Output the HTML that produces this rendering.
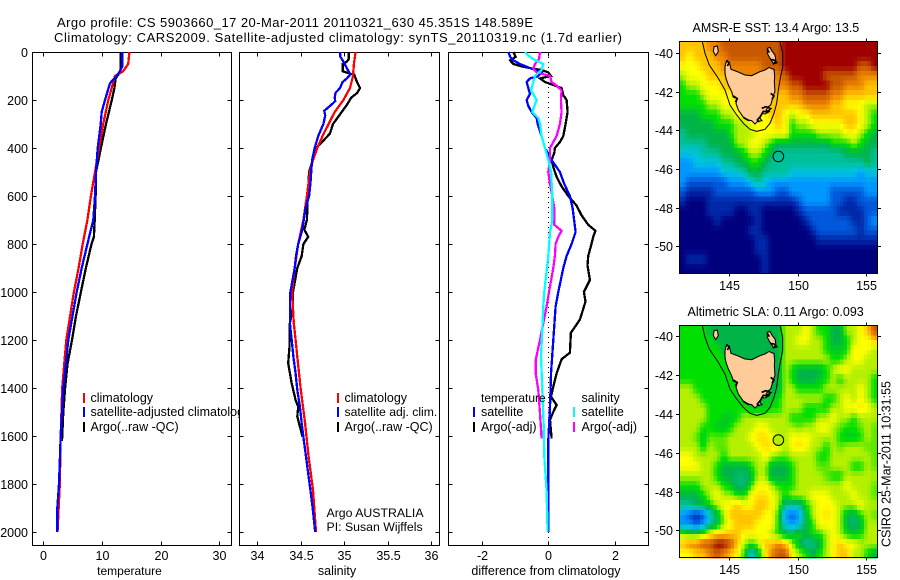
<!DOCTYPE html>
<html lang="en">
<head>
<meta charset="utf-8">
<title>Argo profile 5903660_17</title>
<style>
html,body{margin:0;padding:0;background:#fff;width:900px;height:580px;overflow:hidden}
svg{display:block}
text{font-family:"Liberation Sans",sans-serif;font-size:12.5px;fill:#000}
</style>
</head>
<body>
<svg id="figure" xmlns="http://www.w3.org/2000/svg" width="900" height="580" viewBox="0 0 900 580">
<defs><clipPath id="legendClip"><rect x="0" y="380" width="239" height="60"/></clipPath></defs>
<text x="57" y="27" style="font-size:13px" textLength="476">Argo profile: CS 5903660_17 20-Mar-2011 20110321_630 45.351S 148.589E</text>
<text x="54" y="42" style="font-size:13px" textLength="568">Climatology: CARS2009. Satellite-adjusted climatology: synTS_20110319.nc (1.7d earlier)</text>
<text transform="translate(890.5,547) rotate(-90)" textLength="166">CSIRO 25-Mar-2011 10:31:55</text>
</svg>
<script>
// ---------- depth ticks ----------
const depthTicks = [0,200,400,600,800,1000,1200,1400,1600,1800,2000];
const tempTicks = [0,10,20,30];
const salTicks = [34,34.5,35,35.5,36];
const diffTicks = [-2,0,2];
const lonTicks = [145,150,155];
const mapLatTicks = [-40,-42,-44,-46,-48,-50];

// ---------- temperature panel ----------
const tempArgoDepth = [0,70,90,110,150,200,300,400,500,600,700,770,800,900,1000,1100,1200,1300,1400,1500,1620];
const tempArgoValue = [13.17,13.17,12.9,12.3,12.1,11.65,10.67,9.8,8.96,8.9,8.74,8.6,8.2,7.25,6.4,5.56,4.87,4.1,3.7,3.4,3.17];
const tempClimDepth = [0,50,80,100,200,300,400,500,600,700,800,900,1000,1200,1400,1600,1800,2000];
const tempClimValue = [14.65,14.45,13.6,12.2,11.06,10.2,9.48,8.8,8.1,7.5,6.7,6.0,5.2,3.9,3.2,2.95,2.8,2.4];
const tempSatDepth = [0,60,80,100,130,200,250,300,400,500,600,700,800,900,1000,1200,1400,1600,1800,1900,2000];
const tempSatValue = [13.45,13.45,13.05,12.5,11.35,10.5,9.93,9.77,9.25,8.96,8.8,8.5,7.5,6.53,5.67,4.25,3.4,2.95,2.66,2.37,2.37];

// ---------- salinity panel ----------
const salArgoDepth = [0,30,40,50,80,90,95,120,150,170,190,220,250,300,340,400,430,500,600,700,740,770,800,850,900,1000,1061,1130,1228,1297,1381,1450,1478,1519,1603];
const salArgoValue = [35.05,35.05,35.03,34.98,34.98,35.065,35.115,35.14,35.18,35.15,35.08,35.03,34.97,34.87,34.835,34.68,34.655,34.595,34.58,34.57,34.54,34.585,34.53,34.51,34.46,34.41,34.41,34.375,34.37,34.355,34.395,34.44,34.47,34.46,34.52];
const salClimDepth = [0,50,100,150,200,250,300,350,400,450,500,600,700,800,900,1000,1130,1200,1270,1408,1547,1686,1825,2000];
const salClimValue = [35.13,35.11,35.10,35.065,34.99,34.89,34.82,34.75,34.69,34.64,34.605,34.57,34.53,34.47,34.43,34.40,34.42,34.44,34.46,34.5,34.55,34.59,34.64,34.675];
const salSatDepth = [0,20,40,55,80,95,110,125,150,170,190,205,225,245,265,300,350,400,450,500,550,600,650,700,750,800,850,900,1000,1061,1130,1200,1270,1340,1408,1478,1547,1617,1686,1756,1825,1894,2000];
const salSatValue = [34.95,34.955,34.99,35.01,35.05,35.065,35.03,34.98,34.95,34.9,34.89,34.895,34.835,34.77,34.78,34.76,34.70,34.66,34.63,34.62,34.61,34.595,34.555,34.535,34.51,34.47,34.445,34.43,34.38,34.375,34.375,34.395,34.415,34.44,34.46,34.49,34.51,34.535,34.56,34.585,34.61,34.635,34.665];

// ---------- difference panel ----------
const diffTempArgoDepth = [0,20,35,50,60,70,75,85,100,110,125,140,150,180,200,250,300,350,375,400,420,450,480,520,560,600,640,680,720,745,770,800,850,890,950,1000,1040,1115,1170,1253,1280,1339,1394,1436,1471,1499,1533,1610];
const diffTempArgoValue = [-1.05,-0.98,-1.15,-1.05,-0.8,-0.45,-0.2,0,0.08,-0.25,-0.1,0.2,0.4,0.45,0.55,0.58,0.52,0.45,0.35,0.2,0.18,0.1,0.15,0.25,0.4,0.6,0.85,1.0,1.2,1.42,1.35,1.3,1.2,1.18,1.25,1.07,1.12,0.95,0.68,0.65,0.4,0.25,0.15,0.08,0.25,0.15,0.05,0.1];
const diffTempSatDepth = [0,20,35,50,70,85,100,110,125,150,175,200,225,250,275,300,350,400,450,500,550,600,650,750,800,850,900,1000,1061,1200,1340,1478,1617,1800,2000];
const diffTempSatValue = [-1.2,-1.15,-1.05,-0.85,-0.5,-0.2,-0.3,-0.55,-0.65,-0.6,-0.55,-0.65,-0.6,-0.5,-0.35,-0.32,-0.2,-0.1,0.1,0.35,0.48,0.65,0.73,0.82,0.7,0.55,0.45,0.3,0.22,0.15,0.08,0.05,0,0,0];
const diffSalArgoDepth = [0,30,50,70,85,100,125,140,160,200,250,300,350,400,450,500,550,600,650,720,745,770,800,850,900,1000,1061,1130,1200,1283,1340,1408,1506,1610];
const diffSalArgoValue = [-0.25,-0.28,-0.4,-0.45,-0.35,0.05,0.1,0.25,0.4,0.38,0.4,0.35,0.25,0.05,0.05,0,0.05,0.12,0.18,0.18,0.4,0.3,0.22,0.2,0.15,0.02,-0.05,-0.15,-0.25,-0.38,-0.38,-0.3,-0.25,-0.2];
const diffSalSatDepth = [0,15,30,50,75,100,125,160,200,225,250,275,300,350,400,450,500,600,700,750,850,950,1000,1061,1130,1270,1408,1547,1686,1825,2000];
const diffSalSatValue = [-0.7,-0.6,-0.45,-0.15,-0.2,-0.4,-0.45,-0.52,-0.35,-0.42,-0.48,-0.3,-0.25,-0.2,-0.1,0,0.08,0.12,0.12,0.05,0,-0.08,-0.12,-0.15,-0.17,-0.22,-0.18,-0.14,-0.12,-0.05,-0.02];

// ---------- map grids: colour level per 0.5 degree cell, north to south ----------
const sstGrid = [
[10,10,10,10,11,11,12,12,12,12,12,12,12,12,12,13,13,13,13,13,13,13,13,13,13,13,13,13,13],
[10,9,10,10,10,11,11,12,12,12,12,12,12,12,12,13,13,13,13,13,13,13,13,13,13,13,13,13,13],
[9,9,9,10,10,10,11,11,11,11,11,11,12,12,12,13,13,13,13,13,13,13,13,13,13,13,12,12,13],
[8,9,9,9,10,10,10,11,11,11,11,11,11,11,11,12,13,13,13,13,13,12,12,12,12,12,11,11,11],
[7,8,8,9,9,9,10,10,10,10,10,10,10,10,11,11,12,12,13,13,13,13,12,12,11,11,11,10,10],
[7,7,7,8,9,9,9,9,10,10,10,10,10,10,10,10,11,11,12,12,12,12,11,11,10,10,10,10,10],
[7,7,7,7,8,8,9,9,9,10,10,10,10,10,10,10,10,10,11,11,11,11,10,10,9,9,9,8,8],
[6,6,6,7,7,7,8,8,9,9,9,9,9,10,10,9,8,9,9,10,10,10,10,10,10,10,9,8,7],
[6,6,6,6,6,7,7,7,8,8,9,9,9,9,10,9,7,8,8,9,9,9,9,9,10,10,9,8,7],
[5,6,6,6,6,6,6,7,8,8,8,9,9,9,9,9,7,7,7,7,8,8,8,8,9,9,8,7,6],
[5,5,5,5,6,6,6,6,8,8,9,9,8,7,6,6,6,6,6,6,6,6,7,7,7,8,7,6,6],
[4,4,4,5,5,5,6,6,6,7,8,8,7,6,5,5,5,5,5,5,5,5,5,5,6,6,6,6,5],
[3,3,4,4,4,4,5,5,6,6,7,7,6,5,5,5,5,5,5,5,5,5,5,5,5,5,5,6,5],
[3,3,3,3,3,3,4,4,4,5,6,6,5,5,5,5,4,4,4,4,4,4,4,4,4,4,3,4,4],
[3,2,2,2,2,2,2,3,3,3,4,5,4,3,3,3,3,3,3,3,3,3,3,3,3,3,3,3,3],
[2,1,1,1,1,2,2,2,2,2,2,3,3,3,2,2,3,3,3,3,3,3,2,2,2,2,2,3,3],
[1,0,0,0,1,1,1,1,1,1,1,1,1,1,1,1,1,2,3,3,3,3,2,2,1,1,2,2,2],
[0,0,0,0,1,1,1,1,0,0,1,1,0,0,0,0,0,1,2,2,2,2,2,1,1,1,1,2,2],
[0,0,0,0,0,1,0,0,0,0,0,1,0,0,0,0,0,0,1,2,2,2,2,2,2,1,1,2,3],
[0,0,0,0,0,0,0,0,0,0,1,1,0,0,0,0,0,0,0,1,2,2,2,2,2,2,1,2,2],
[0,0,0,0,0,0,0,0,0,0,0,1,1,0,0,0,0,0,0,0,1,1,1,1,1,1,1,1,1],
[0,0,0,0,0,0,0,0,0,0,0,1,1,0,0,0,0,0,0,0,0,0,0,0,0,0,0,0,0],
[0,1,1,1,0,0,0,0,0,0,0,0,1,0,0,0,0,0,0,0,0,0,0,0,0,0,0,0,0],
[0,0,0,0,0,0,0,0,0,0,0,0,1,0,0,0,0,0,0,0,0,0,0,0,0,0,0,0,0]
];
const slaGrid = [
[7,7,7,7,6,6,6,6,6,6,6,6,6,6,6,8,8,8,9,8,7,7,6,6,8,8,9,10,12],
[7,7,7,7,7,6,6,6,6,6,6,6,6,6,6,8,8,9,9,8,8,7,6,6,7,8,9,9,10],
[7,7,7,7,7,7,6,6,6,6,6,6,6,6,6,8,8,8,8,8,8,7,6.5,6.5,7,9,9,9,8],
[7,7,7,7,7,7,7,6,6,6,6,6,6,6,6,8,8,8,8,8,8,8,7,7,8,9,9,8,8],
[7,7,7,7,7,7,7,7,6,6,6,6,6,6,6,8,7,6,6,6,6,7,8,9,9,8,8,8,8],
[7,7,7,7,7,7,7,7,7,6,6,6,6,6,6,8,7,6,6,6,6.5,7,8,7,8,8,8,8,7],
[8,8,7,7,7,7,7,7,7,7,6,6,6,6,6,8,8,7,7,7,7,8,8,8,8,8,9,8,7],
[8,8,8,7,7,7,7,7,7,7,7,6.5,6.5,6.5,7,8,8,8,8,8,8,7,7,8,9,8,9,8,7],
[8,8,8,8,7,7,7,7,7,7,6.5,6.5,6.5,7,7,8,8,8,7,7,7,7,8,8,9,9,9.5,9,8],
[8,8,8,8,7,7,6.5,6.5,7,8,8,8,8,8,8,8,7,7,7,7,8,8,9,8,8,7,8,8,8],
[8,8,8,7,7,6.5,6.5,7,8,8,8,9,9,8,8,8,8,7.5,8,8,9,9,8,7.5,7,7,7.5,8,7.5],
[8,8,7.5,6.5,7.5,7.5,7.5,8,8,8,9,9.5,9.5,9,8,8,9,9,9,8.5,8,8,8,7,6.5,6.5,7,8,7.5],
[8,8,8,6.8,8,7.5,7.5,8,8,8,8,9,9.5,9.5,9,8,9,9.5,9,8,8,7,8,7.5,8,8,8,7.5,7.5],
[9,9,8,8,8,8,7,8,8,8,8,8,9,8,7.5,7.5,8,8,8,8,7,7,8,8,8,8,8,8,7.5],
[9,9,9,8,8,7,6,6,6,6,7,8,8,6,6,6,7,8,8,8,7.5,7.5,8,8,8,7,7,8,7.5],
[8,8,8,8,8,7,6,6,5.5,5.5,6,8,8,6,6,6,7,8,8,8,8,7.5,7,7,8,8,8,8,8],
[7,7,7,8,8,8,7,6.5,5.5,5.5,7,9,9,8,7,7,7,8,8,8,8,8,8,8,9,8,8,8,7.5],
[6,6,6,7,8,9,8,8,7,7,9,9.5,9.5,9,8,7,8,8,8,9,9,9,8,8,8,9,8,8,7.5],
[5,5,6,6,7,8,9,9,10,9,9,10,10,9,8,5,5,5,7,8,9,9,9,8,8,8,9,8,8],
[3,2,1,2,4,6,8,10,10,10,10,10,9,9,7,3,2,3,6,8,9,9.5,9,8,6,5.5,7,8,7.5],
[3,3,2,3,5,6,8,9,10,10,10,9,9,9,7,4,3,4,6,7,9,9,9,8,6,5.5,6,8,8],
[8,7,7,8,9,10,10,10,10,9,9,9,9,8,7,6,6,7,6,7,7,8,9,8,7,6.5,7,8,8],
[10,11,11,12,12,13,13,12,10,8,7,8,10,10,11,10,8,6,5,5,6,8,9,10,9,9,8,8,8],
[9,9,10,10,11,12,11,10,9,7,4,6,9,11,12,12,9,8,7,6,7,8,9,10,10,8,8,7,6]
];
const colourLevels = ['#00007f','#0028a8','#0058dc','#0098ff','#00c4e0','#00c098','#00b448','#00e000','#b4f000','#ffff00','#ffc400','#ec8400','#c85800','#a00000'];
const argoSst = 13.5;
const argoSla = 0.093;
const argoLon = 148.589;
const argoLat = -45.351;

const NS = 'http://www.w3.org/2000/svg';
const svg = document.getElementById('figure');
const depthY = d => 52 + d * 0.24;

function mk(tag, parent) {
  const el = document.createElementNS(NS, tag);
  (parent || svg).appendChild(el);
  return el;
}
function text(str, x, y, anchor, name, parent) {
  const t = mk('text', parent);
  t.textContent = str;
  t.setAttribute('x', x);
  t.setAttribute('y', y);
  t.setAttribute('text-anchor', anchor || 'start');
  
  
  return t;
}
function line(x1, y1, x2, y2, name, color, width, parent) {
  const l = mk('line', parent);
  l.setAttribute('x1', x1);
  l.setAttribute('y1', y1);
  l.setAttribute('x2', x2);
  l.setAttribute('y2', y2);
  l.setAttribute('stroke', color || '#000');
  l.setAttribute('stroke-width', width || 1);
  l.setAttribute('shape-rendering', 'crispEdges');
  
  
  return l;
}
function frame(x, y, w, h, name) {
  const r = mk('rect');
  r.setAttribute('x', x);
  r.setAttribute('y', y);
  r.setAttribute('width', w);
  r.setAttribute('height', h);
  r.setAttribute('fill', 'none');
  r.setAttribute('stroke', '#000');
  r.setAttribute('stroke-width', 1);
  r.setAttribute('shape-rendering', 'crispEdges');
  
  
}
function series(depths, values, xScale, color, name) {
  const p = mk('polyline');
  p.setAttribute('points', depths.map((d, i) => xScale(values[i]).toFixed(1) + ',' + depthY(d).toFixed(1)).join(' '));
  p.setAttribute('fill', 'none');
  p.setAttribute('stroke', color);
  p.setAttribute('stroke-width', 2.3);
  p.setAttribute('shape-rendering', 'crispEdges');
  
  
}
const panelTop = 52.5;
const panelBottom = 545.5;
function panelAxes(left, right, xScale, ticks, title, prefix, showDepthLabels) {
  const bg = mk('rect');
  bg.setAttribute('x', left);
  bg.setAttribute('y', panelTop);
  bg.setAttribute('width', right - left);
  bg.setAttribute('height', panelBottom - panelTop);
  bg.setAttribute('fill', '#fff');
  
  
  frame(left, panelTop, right - left, panelBottom - panelTop, prefix + '-plot-frame');
  depthTicks.forEach(d => {
    const y = Math.round(depthY(d)) + 0.5;
    line(left, y, left + 4, y, prefix + '-depth-tick-left');
    line(right - 4, y, right, y, prefix + '-depth-tick-right');
    if (showDepthLabels) text(String(d), 28, y + 4.5, 'end', 'depth-tick-label');
  });
  ticks.forEach(v => {
    const x = Math.round(xScale(v)) + 0.5;
    line(x, panelTop, x, panelTop + 4, prefix + '-x-tick-top');
    line(x, panelBottom - 4, x, panelBottom, prefix + '-x-tick-bottom');
    text(String(v), x, 560, 'middle', prefix + '-x-tick-label');
  });
  return text(title, (left + right) / 2 - 2.5, 575, 'middle', prefix + '-axis-title');
}
function legendEntry(x, y, color, label, textX, name) {
  if (color) line(x, y - 9, x, y + 1, name + '-swatch', color, 2);
  return text(label, textX, y, 'start', name + '-label');
}

// ---------- panels ----------
const tempX = v => 43.4 + v * 5.867;
const salX = v => 257.3 + (v - 34) * 87;
const diffX = v => 548.3 + v * 33.25;

panelAxes(32.5, 231.5, tempX, tempTicks, 'temperature', 'temperature', true).style.fontSize = '12px';
series(tempArgoDepth, tempArgoValue, tempX, '#000', 'temperature-argo-line');
series(tempClimDepth, tempClimValue, tempX, '#ff0000', 'temperature-climatology-line');
series(tempSatDepth, tempSatValue, tempX, '#0000ff', 'temperature-satellite-line');
legendEntry(84, 402, '#ff0000', 'climatology', 90.5, 'temperature-legend-climatology');
legendEntry(84, 416, '#0000ff', 'satellite-adjusted climatology', 90.5, 'temperature-legend-satellite').setAttribute('clip-path', 'url(#legendClip)');
legendEntry(84, 431, '#000', 'Argo(..raw -QC)', 90.5, 'temperature-legend-argo');

panelAxes(239.5, 439.5, salX, salTicks, 'salinity', 'salinity', false);
series(salArgoDepth, salArgoValue, salX, '#000', 'salinity-argo-line');
series(salClimDepth, salClimValue, salX, '#ff0000', 'salinity-climatology-line');
series(salSatDepth, salSatValue, salX, '#0000ff', 'salinity-satellite-line');
legendEntry(338, 402, '#ff0000', 'climatology', 344.5, 'salinity-legend-climatology');
legendEntry(338, 416, '#0000ff', 'satellite adj. clim.', 344.5, 'salinity-legend-satellite').style.fontSize = '12.2px';
legendEntry(338, 431, '#000', 'Argo(..raw -QC)', 344.5, 'salinity-legend-argo');
text('Argo AUSTRALIA', 326.5, 517, 'start', 'argo-australia-note').style.fontSize = '12.3px';
text('PI: Susan Wijffels', 326.5, 531, 'start', 'principal-investigator-note').style.fontSize = '12.3px';

panelAxes(448.5, 648.5, diffX, diffTicks, 'difference from climatology', 'difference', false);
const zeroLine = line(diffX(0), 52, diffX(0), 545, 'zero-difference-line');
zeroLine.setAttribute('stroke-dasharray', '1 4');
series(diffTempArgoDepth, diffTempArgoValue, diffX, '#000', 'difference-temperature-argo-line');
series(diffTempSatDepth, diffTempSatValue, diffX, '#0000ff', 'difference-temperature-satellite-line');
series(diffSalArgoDepth, diffSalArgoValue, diffX, '#ff00ff', 'difference-salinity-argo-line');
series(diffSalSatDepth, diffSalSatValue, diffX, '#00ffff', 'difference-salinity-satellite-line');
legendEntry(0, 402, null, 'temperature', 481, 'difference-legend-temperature-heading').style.fontSize = '12px';
legendEntry(474, 416, '#0000ff', 'satellite', 481, 'difference-legend-temperature-satellite');
legendEntry(474, 431, '#000', 'Argo(-adj)', 481, 'difference-legend-temperature-argo');
legendEntry(0, 402, null, 'salinity', 581.5, 'difference-legend-salinity-heading');
legendEntry(574, 416, '#00ffff', 'satellite', 581.5, 'difference-legend-salinity-satellite');
legendEntry(574, 431, '#ff00ff', 'Argo(-adj)', 581.5, 'difference-legend-salinity-argo');

// ---------- maps ----------
const tasmaniaShape = '225,170 228,158 232,152 236,158 240,165 243,178 262,185 285,195 305,197 330,185 345,180 358,172 364,176 372,178 374,200 373,215 375,245 370,255 368,265 362,285 355,290 348,300 358,305 345,312 335,310 330,325 336,332 322,335 315,342 305,332 292,330 280,322 272,310 265,300 258,280 262,265 250,262 245,245 235,225 228,205 225,190';
const flindersShape = '352,115 360,112 365,122 375,135 378,155 370,160 360,145 352,130';
const kingShape = '192,110 202,108 205,125 197,137 190,125';
const shelfContour = '157,95 165,130 178,165 205,205 225,240 240,285 260,315 280,340 300,358 320,364 345,358 360,340 372,310 380,280 385,240 390,210 398,170 398,130 390,95';
const coastDetails = ['335,295 348,290 362,296 352,306 340,304 332,318 322,330 328,336', '250,258 262,266 256,276', '360,148 372,150 380,158 368,162', '352,118 358,128', '280,322 290,328 298,332', '362,250 372,258 366,268', '228,152 238,158 232,168'];

const levelRgb = colourLevels.map(h => [1, 3, 5].map(i => parseInt(h.slice(i, i + 2), 16)));
function levelColour(level) {
  const i = Math.min(Math.floor(level), levelRgb.length - 2);
  const f = level - i;
  const c = levelRgb[i].map((v, k) => Math.round(v + (levelRgb[i + 1][k] - v) * f));
  return 'rgb(' + c.join(',') + ')';
}
function sampleGrid(grid, r, c) {
  const rr = Math.max(0, Math.min(grid.length - 1, r));
  const cc = Math.max(0, Math.min(grid[0].length - 1, c));
  const r0 = Math.floor(rr), c0 = Math.floor(cc);
  const r1 = Math.min(grid.length - 1, r0 + 1), c1 = Math.min(grid[0].length - 1, c0 + 1);
  const fr = rr - r0, fc = cc - c0;
  return (grid[r0][c0] * (1 - fc) + grid[r0][c1] * fc) * (1 - fr) + (grid[r1][c0] * (1 - fc) + grid[r1][c1] * fc) * fr;
}
function drawMap(grid, cfg) {
  const lonX = lon => 729.3 + (lon - 145) * 13.67;
  const latY = lat => cfg.y40 + (-40 - lat) * cfg.kLat;
  const g = mk('g');
  
  
  g.setAttribute('shape-rendering', 'crispEdges');
  for (let r = 0; r < grid.length * 2; r++) {
    for (let c = 0; c < grid[0].length * 2; c++) {
      const west = 141.35 + c * 0.25;
      const north = cfg.northLat - r * 0.25;
      const cell = mk('rect', g);
      cell.setAttribute('x', lonX(west).toFixed(2));
      cell.setAttribute('y', latY(north).toFixed(2));
      cell.setAttribute('width', (lonX(west + 0.25) - lonX(west)).toFixed(2));
      cell.setAttribute('height', (latY(north - 0.25) - latY(north)).toFixed(2));
      cell.setAttribute('fill', levelColour(sampleGrid(grid, (r - 0.5) / 2, (c - 0.5) / 2)));
      
      
    }
  }
  const coast = mk('g');
  coast.setAttribute('transform', 'translate(650,' + cfg.dy + ') scale(0.33333)');
  
  
  const shapes = [tasmaniaShape, flindersShape, kingShape];
  shapes.forEach(pts => {
    const land = mk('polygon', coast);
    land.setAttribute('points', pts);
    land.setAttribute('fill', '#ffcc99');
    land.setAttribute('stroke', '#000');
    land.setAttribute('stroke-width', 3.2);
    
    
  });
  coastDetails.forEach(pts => {
    const detail = mk('polyline', coast);
    detail.setAttribute('points', pts);
    detail.setAttribute('fill', 'none');
    detail.setAttribute('stroke', '#000');
    detail.setAttribute('stroke-width', 5);
    
    
  });
  const contour = mk('polyline', coast);
  contour.setAttribute('points', shelfContour);
  contour.setAttribute('fill', 'none');
  contour.setAttribute('stroke', '#000');
  contour.setAttribute('stroke-width', 3);
  
  
  const marker = mk('circle');
  marker.setAttribute('cx', lonX(argoLon));
  marker.setAttribute('cy', latY(argoLat));
  marker.setAttribute('r', 5.3);
  marker.setAttribute('fill', cfg.markerFill);
  marker.setAttribute('stroke', '#000');
  
  
  frame(679.5, cfg.top, 198, cfg.bottom - cfg.top, cfg.name + '-frame');
  lonTicks.forEach(lon => {
    const x = Math.round(lonX(lon)) + 0.5;
    line(x, cfg.top - 3, x, cfg.top, cfg.name + '-lon-tick-top');
    line(x, cfg.bottom, x, cfg.bottom + 3, cfg.name + '-lon-tick-bottom');
    text(String(lon), x, cfg.lonLabelY, 'middle', cfg.name + '-lon-label');
  });
  mapLatTicks.forEach(lat => {
    const y = Math.round(latY(lat)) + 0.5;
    line(676, y, 679.5, y, cfg.name + '-lat-tick-left');
    line(877.5, y, 881, y, cfg.name + '-lat-tick-right');
    text(String(lat), 673, y + 4.5, 'end', cfg.name + '-lat-label');
  });
  text(cfg.title, cfg.titleX, cfg.titleY, 'start', cfg.name + '-title');
}
const sstMarkerFill = levelColour(5);
const slaMarkerFill = levelColour(8);
drawMap(sstGrid, {name:'sst-map', y40:53, kLat:19.33, northLat:-39.42, top:41.5, bottom:273.5, dy:10, lonLabelY:290, markerFill:sstMarkerFill, title:'AMSR-E SST: 13.4 Argo: ' + argoSst, titleX:692.5, titleY:32});
drawMap(slaGrid, {name:'sla-map', y40:336.3, kLat:19.4, northLat:-39.45, top:325.5, bottom:557.5, dy:294, lonLabelY:574, markerFill:slaMarkerFill, title:'Altimetric SLA: 0.11 Argo: ' + argoSla, titleX:687.5, titleY:316});
</script>
</body>
</html>
